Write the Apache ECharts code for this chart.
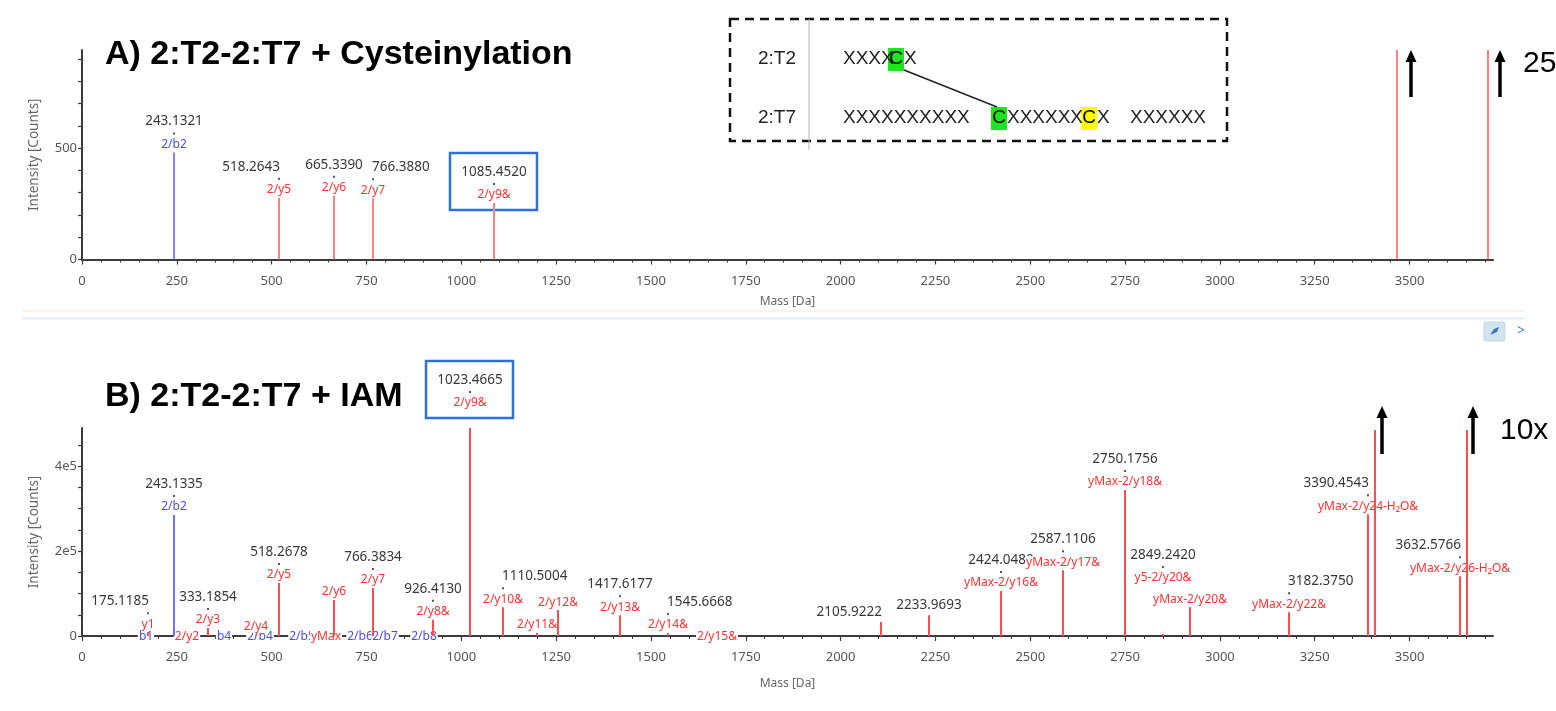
<!DOCTYPE html>
<html>
<head>
<meta charset="utf-8">
<script src="https://cdn.jsdelivr.net/npm/echarts@6/dist/echarts.min.js"></script>
<style>
  html, body { margin: 0; padding: 0; background: #fff; }
  #chart { width: 1556px; height: 711px; }
</style>
</head>
<body>
<div id="chart"></div>
<script>
// ---- Panel A: 2:T2-2:T7 + Cysteinylation ----
const massA   = [243.1321, 518.2643, 665.3390, 766.3880, 1085.4520, 3468, 3708];
const intensA = [480, 277, 286, 275, 254, 940, 940];
const ionA    = ['2/b2', '2/y5', '2/y6', '2/y7', '2/y9&', '', ''];
const kindA   = ['b', 'y', 'y', 'y', 'y', 'y', 'y'];
const showMassA = [true, true, true, true, true, false, false];

// ---- Panel B: 2:T2-2:T7 + IAM ----
const massB = [175.1185, 243.1335, 333.1854, 459, 518.2678, 665.34, 766.3834, 926.4130,
  1023.4665, 1110.5004, 1199, 1255, 1417.6177, 1545.6668, 2105.9222, 2233.9693,
  2424.0480, 2587.1106, 2750.1756, 2849.2420, 2921, 3182.3750, 3390.4543, 3408,
  3632.5766, 3651];
const intensB = [9000, 285000, 19000, 3000, 125000, 85000, 113000, 38000,
  490000, 68000, 7000, 61000, 49000, 7000, 33000, 49000,
  106000, 155000, 344000, 5000, 68000, 56000, 287000, 485000,
  141000, 485000];
const ionB = ['y1', '2/b2', '2/y3', '2/y4', '2/y5', '2/y6', '2/y7', '2/y8&',
  '2/y9&', '2/y10&', '2/y11&', '2/y12&', '2/y13&', '2/y14&', '', '',
  'yMax-2/y16&', 'yMax-2/y17&', 'yMax-2/y18&', 'y5-2/y20&', 'yMax-2/y20&', 'yMax-2/y22&', 'yMax-2/y24-H\u2082O&', '',
  'yMax-2/y26-H\u2082O&', ''];
const kindB = ['y', 'b', 'y', 'y', 'y', 'y', 'y', 'y', 'y', 'y', 'y', 'y', 'y', 'y', 'y', 'y',
  'y', 'y', 'y', 'y', 'y', 'y', 'y', 'y', 'y', 'y'];
const showMassB = [true, true, true, false, true, false, true, true,
  true, true, false, false, true, true, true, true,
  true, true, true, true, false, true, true, false,
  true, false];

// fragment annotations sitting on the baseline of panel B
const baseMassB = [169, 277, 374, 469, 580, 643, 733, 798, 901, 1673];
const baseIonB  = ['b1', '2/y2', 'b4', '2/b4', '2/b5', 'yMax', '2/b6', '2/b7', '2/b8', '2/y15&'];
const baseKindB = ['b', 'y', 'b', 'b', 'b', 'y', 'b', 'b', 'b', 'y'];

// axis ticks
const massTicks = [0, 250, 500, 750, 1000, 1250, 1500, 1750, 2000, 2250, 2500, 2750, 3000, 3250, 3500];
const yTicksA = [0, 500];
const yTicksB = [0, 200000, 400000];

// label placement tweaks (alignment of the mass text, extra lift in px)
const massAlign = { 518.2643: 'right', 766.3880: 'left', 175.1185: 'right', 1110.5004: 'left',
  1545.6668: 'left', 2105.9222: 'right', 3182.3750: 'left', 3390.4543: 'right', 3632.5766: 'right' };
const labelLift = { 1023.4665: 17, 2849.2420: 48 };
const boxed = [1085.4520, 1023.4665];

const FONT = '"Noto Sans", "Open Sans", sans-serif';
const colors = {
  A: { y: '#ff8080', b: '#8282ff' },
  B: { y: '#ff4d4d', b: '#7070ff' },
  text: { y: '#ff3030', b: '#4a4ae8' }
};

function range(a, b, s) { const r = []; for (let v = a; v <= b; v += s) r.push(v); return r; }

function peakLines(mass, inten, kind, pal) {
  return {
    type: 'custom', z: 4, clip: true,
    data: mass.map((m, i) => [m, inten[i], i]),
    encode: { x: 0, y: 1 },
    renderItem: (params, api) => {
      const i = api.value(2);
      const top = api.coord([api.value(0), api.value(1)]);
      const base = api.coord([api.value(0), 0]);
      return {
        type: 'line',
        shape: { x1: Math.round(top[0]), y1: base[1], x2: Math.round(top[0]), y2: top[1] },
        style: { stroke: pal[kind[i]], lineWidth: 2 }
      };
    }
  };
}

function peakLabels(mass, inten, ion, kind, showMass) {
  return {
    type: 'custom', z: 3, clip: false,
    data: mass.map((m, i) => [m, inten[i], i]),
    encode: { x: 0, y: 1 },
    renderItem: (params, api) => {
      const i = api.value(2);
      const m = mass[i];
      const top = api.coord([api.value(0), api.value(1)]);
      const x = Math.round(top[0]);
      const lift = labelLift[m] || 0;
      const yTop = top[1] - lift;
      const children = [];
      const hasIon = ion[i] !== '';
      const ionY = yTop - 8;
      const massY = hasIon ? yTop - 31 : yTop - 10;
      if (showMass[i]) {
        const al = massAlign[m] || 'center';
        const mx = al === 'right' ? x + 2 : (al === 'left' ? x - 2 : x);
        children.push({
          type: 'text', x: mx, y: massY,
          style: { text: m.toFixed(4), fill: '#383838', font: '13.5px ' + FONT,
                   align: al, verticalAlign: 'middle', backgroundColor: '#fff', padding: [0, 1] }
        });
        if (hasIon) {
          children.push({ type: 'rect', shape: { x: x - 1, y: yTop - 20, width: 2, height: 2 },
                          style: { fill: '#555' } });
        }
      }
      if (hasIon) {
        children.push({
          type: 'text', x: x, y: ionY,
          style: { text: ion[i], fill: colors.text[kind[i]], font: '12px ' + FONT,
                   align: 'center', verticalAlign: 'middle', backgroundColor: '#fff', padding: [0, 1] }
        });
      }
      if (boxed.indexOf(m) >= 0) {
        children.push({
          type: 'rect', shape: { x: x - 44, y: massY - 19, width: 87, height: ionY + 15 - (massY - 19) },
          style: { fill: 'none', stroke: '#2f6fd8', lineWidth: 2.5 }
        });
      }
      return { type: 'group', children };
    }
  };
}

function baseLabels(mass, ion, kind) {
  return {
    type: 'custom', z: 3, clip: false,
    data: mass.map((m, i) => [m, 0, i]),
    encode: { x: 0, y: 1 },
    renderItem: (params, api) => {
      const i = api.value(2);
      const p = api.coord([api.value(0), 0]);
      return {
        type: 'text', x: Math.round(p[0]), y: p[1] + 1,
        style: { text: ion[i], fill: colors.text[kind[i]], font: '12px ' + FONT,
                 align: 'center', verticalAlign: 'middle', backgroundColor: '#fff', padding: [0, 1] }
      };
    }
  };
}

function arrow(x, yTip, yEnd) {
  return {
    type: 'group', children: [
      { type: 'line', shape: { x1: x, y1: yTip + 8, x2: x, y2: yEnd }, style: { stroke: '#000', lineWidth: 3.5 } },
      { type: 'polygon', shape: { points: [[x, yTip], [x - 5.5, yTip + 12], [x + 5.5, yTip + 12]] }, style: { fill: '#000' } }
    ]
  };
}

const axisLine = { show: true, lineStyle: { color: '#3c3c3c', width: 2 } };
const tickLabel = { color: '#555', fontFamily: FONT, fontSize: 13 };

function xAxes(gridIdx, nameGap) {
  return [
    {
      type: 'value', gridIndex: gridIdx, min: 0, max: 3720, position: 'bottom',
      name: 'Mass [Da]', nameLocation: 'middle', nameGap: nameGap,
      nameTextStyle: { color: '#666', fontFamily: FONT, fontSize: 12 },
      axisLine: axisLine, splitLine: { show: false },
      axisTick: { show: true, length: 5, customValues: massTicks, lineStyle: { color: '#3c3c3c', width: 1.2 } },
      axisLabel: Object.assign({ margin: 15, customValues: massTicks, formatter: v => String(v) }, tickLabel)
    },
    {
      type: 'value', gridIndex: gridIdx, min: 0, max: 3720, position: 'bottom',
      axisLine: { show: false }, splitLine: { show: false }, axisLabel: { show: false },
      axisTick: { show: true, length: 3, customValues: range(0, 3700, 50), lineStyle: { color: '#3c3c3c', width: 1 } }
    }
  ];
}

function yAxis(gridIdx, max, step, labels, fmt) {
  return {
    type: 'value', gridIndex: gridIdx, min: 0, max: max,
    name: 'Intensity [Counts]', nameLocation: 'middle', nameGap: 41, nameRotate: 90,
    nameTextStyle: { color: '#666', fontFamily: FONT, fontSize: 13.5 },
    axisLine: axisLine, splitLine: { show: false },
    axisTick: { show: true, length: 4, customValues: range(0, max, step), lineStyle: { color: '#3c3c3c', width: 1.2 } },
    axisLabel: Object.assign({ margin: 5, customValues: labels, formatter: fmt }, tickLabel)
  };
}

const chart = echarts.init(document.getElementById('chart'), null, { renderer: 'canvas' });

// x axes 0,1 belong to panel A, 2,3 to panel B
const xa = xAxes(0, 36);
const xb = xAxes(1, 42);

const sA = [peakLabels(massA, intensA, ionA, kindA, showMassA), peakLines(massA, intensA, kindA, colors.A)];
sA.forEach(s => { s.xAxisIndex = 0; s.yAxisIndex = 0; });
const sB = [baseLabels(baseMassB, baseIonB, baseKindB),
            peakLabels(massB, intensB, ionB, kindB, showMassB), peakLines(massB, intensB, kindB, colors.B)];
sB.forEach(s => { s.xAxisIndex = 2; s.yAxisIndex = 1; });

const seq = '19px "Liberation Sans", Arial, sans-serif';

const option = {
  animation: false,
  backgroundColor: '#fff',
  grid: [
    { left: 82, right: 63, top: 50, height: 209.5 },
    { left: 82, right: 63, top: 428, height: 208 }
  ],
  xAxis: xa.concat(xb),
  yAxis: [
    yAxis(0, 940, 100, yTicksA, v => String(v)),
    yAxis(1, 490000, 50000, yTicksB, v => v === 0 ? '0' : (v / 100000) + 'e5')
  ],
  series: sA.concat(sB),
  graphic: [
    // titles
    { type: 'text', x: 105, y: 55, style: { text: 'A) 2:T2-2:T7 + Cysteinylation', font: 'bold 34px "Liberation Sans", Arial, sans-serif', fill: '#000', verticalAlign: 'middle' } },
    { type: 'text', x: 105, y: 397, style: { text: 'B) 2:T2-2:T7 + IAM', font: 'bold 34px "Liberation Sans", Arial, sans-serif', fill: '#000', verticalAlign: 'middle' } },
    // panel separator
    { type: 'line', shape: { x1: 22, y1: 311, x2: 1525, y2: 311 }, style: { stroke: '#f6f0e2', lineWidth: 1.5 } },
    { type: 'line', shape: { x1: 22, y1: 318.5, x2: 1525, y2: 318.5 }, style: { stroke: '#d9e8f2', lineWidth: 1.5 } },
    { type: 'rect', shape: { x: 1484, y: 322, width: 21, height: 19, r: 2 }, style: { fill: '#d2e4ef', stroke: '#c2d8e6' } },
    { type: 'polygon', shape: { points: [[1490, 335], [1494, 329], [1499, 327], [1497, 332]] }, style: { fill: '#3a78b8' } },
    { type: 'text', x: 1521, y: 331, style: { text: '>', font: '14px ' + FONT, fill: '#4a80b8', align: 'center', verticalAlign: 'middle' } },
    // crosslink inset
    { type: 'rect', shape: { x: 730, y: 19, width: 497, height: 122 }, style: { fill: 'none', stroke: '#111', lineWidth: 2.5, lineDash: [9, 6] } },
    { type: 'line', shape: { x1: 809, y1: 19, x2: 809, y2: 150 }, style: { stroke: '#b5b5b5', lineWidth: 1 } },
    { type: 'text', x: 777, y: 59, style: { text: '2:T2', font: seq, fill: '#222', align: 'center', verticalAlign: 'middle' } },
    { type: 'text', x: 777, y: 118, style: { text: '2:T7', font: seq, fill: '#222', align: 'center', verticalAlign: 'middle' } },
    { type: 'rect', shape: { x: 888, y: 48, width: 16, height: 23 }, style: { fill: '#1ee61e' } },
    { type: 'rect', shape: { x: 991, y: 107, width: 16, height: 23 }, style: { fill: '#1ee61e' } },
    { type: 'rect', shape: { x: 1081, y: 107, width: 16, height: 23 }, style: { fill: '#ffff00' } },
    { type: 'text', x: 843, y: 59, style: { text: 'XXXX', font: seq, fill: '#222', verticalAlign: 'middle' } },
    { type: 'text', x: 896, y: 59, style: { text: 'C', font: seq, fill: '#000', align: 'center', verticalAlign: 'middle' } },
    { type: 'text', x: 904, y: 59, style: { text: 'X', font: seq, fill: '#222', verticalAlign: 'middle' } },
    { type: 'text', x: 843, y: 118, style: { text: 'XXXXXXXXXX', font: seq, fill: '#222', verticalAlign: 'middle' } },
    { type: 'text', x: 999, y: 118, style: { text: 'C', font: seq, fill: '#000', align: 'center', verticalAlign: 'middle' } },
    { type: 'text', x: 1007, y: 118, style: { text: 'XXXXXX', font: seq, fill: '#222', verticalAlign: 'middle' } },
    { type: 'text', x: 1089, y: 118, style: { text: 'C', font: seq, fill: '#000', align: 'center', verticalAlign: 'middle' } },
    { type: 'text', x: 1097, y: 118, style: { text: 'X', font: seq, fill: '#222', verticalAlign: 'middle' } },
    { type: 'text', x: 1130, y: 118, style: { text: 'XXXXXX', font: seq, fill: '#222', verticalAlign: 'middle' } },
    { type: 'line', shape: { x1: 904, y1: 70, x2: 997, y2: 107 }, style: { stroke: '#222', lineWidth: 1.5 } },
    // off-scale peak markers
    arrow(1411, 50, 97),
    arrow(1500, 50, 97),
    { type: 'text', x: 1523, y: 64, style: { text: '25x', font: '30px "Liberation Sans", Arial, sans-serif', fill: '#000', verticalAlign: 'middle' } },
    arrow(1382, 406, 454),
    arrow(1473, 406, 454),
    { type: 'text', x: 1500, y: 431, style: { text: '10x', font: '30px "Liberation Sans", Arial, sans-serif', fill: '#000', verticalAlign: 'middle' } }
  ]
};

chart.setOption(option);
</script>
</body>
</html>
